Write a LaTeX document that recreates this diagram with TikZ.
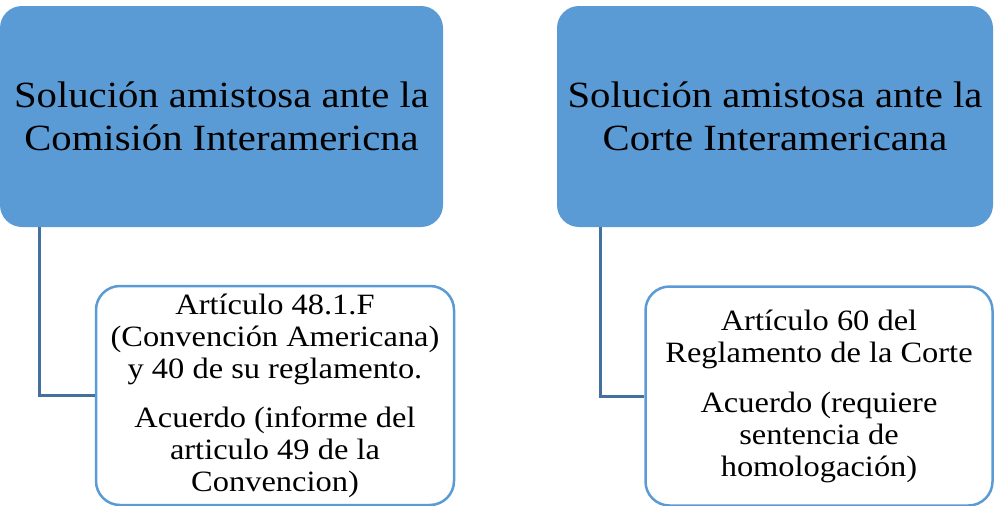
\documentclass[tikz,border=0pt]{standalone}
\usepackage{fontspec}
\setmainfont{Liberation Serif}[FakeStretch=1.1]
\definecolor{boxblue}{HTML}{5B9BD5}
\definecolor{linkblue}{HTML}{41719C}
\begin{document}
\begin{tikzpicture}[x=1pt, y=-1pt,
  parent/.style = {fill=boxblue, rounded corners=22pt, minimum width=#1, minimum height=221pt, align=center, inner sep=0pt, font=\fontsize{37}{43}\selectfont},
  child/.style = {draw=boxblue, line width=2.5pt, rounded corners=24pt, minimum width=#1, minimum height=219pt, align=center, inner sep=0pt, font=\fontsize{29.5}{32}\selectfont},
  link/.style = {draw=linkblue, line width=3pt}]
\useasboundingbox (0,0) rectangle (994,506);
\node[parent=443pt] (com) at (221.5,116.5) {Solución amistosa ante la\\Comisión Interamericna};
\node[parent=436pt] (cor) at (775,116.5) {Solución amistosa ante la\\Corte Interamericana};
\node[child=358pt] (art48) at (275,395.5) {Artículo 48.1.F\\(Convención Americana)\\y 40 de su reglamento.\\[17pt]Acuerdo (informe del\\articulo 49 de la\\Convencion)};
\node[child=347pt] (art60) at (819,396) {Artículo 60 del\\Reglamento de la Corte\\[18pt]Acuerdo (requiere\\sentencia de\\homologación)};
% conectores
\coordinate (c1) at ([xshift=40pt]com.south west);
\coordinate (c2) at ([xshift=44pt]cor.south west);
\draw[link] (c1) |- (art48.west);
\draw[link] (c2) |- (art60.west);
\end{tikzpicture}
\end{document}
